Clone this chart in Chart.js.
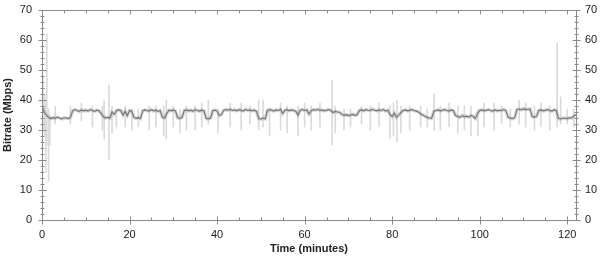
<!DOCTYPE html>
<html>
<head>
<meta charset="utf-8">
<script src="https://cdn.jsdelivr.net/npm/chart.js@4/dist/chart.umd.min.js"></script>
<style>
  html, body { margin: 0; padding: 0; background: #fff; }
  #wrap { width: 600px; height: 259px; }
</style>
</head>
<body>
<div id="wrap"><canvas id="bitrateChart"></canvas></div>
<script>
// sample spacing of the trace (minutes)
const sampleStepMin = 0.5;

// main bitrate trace, one value per half minute from 0 to 122 min
const bitrateMbps = [
  38.0, 36.0, 35.0, 34.2, 33.8, 34.1, 33.9, 34.3, 34.0, 33.7,
  34.1, 34.0, 33.8, 34.2, 36.4, 36.8, 36.5, 36.2, 36.7, 36.4,
  36.6, 36.3, 36.8, 36.5, 36.2, 36.6, 36.4, 35.5, 34.5, 34.0,
  34.2, 33.9, 36.0, 35.2, 36.4, 36.7, 36.5, 35.0, 36.2, 34.8,
  36.5, 36.3, 34.2, 33.9, 34.1, 33.8, 36.4, 36.7, 36.5, 36.3,
  36.8, 36.4, 36.6, 36.2, 36.5, 34.2, 34.0, 35.5, 36.6, 36.4,
  36.7, 36.3, 34.1, 33.9, 34.2, 36.5, 36.7, 36.4, 36.6, 36.2,
  36.8, 36.5, 36.3, 36.6, 36.4, 33.9, 33.7, 34.0, 36.4, 36.6,
  36.3, 34.8, 35.2, 36.5, 36.8, 36.6, 36.9, 36.5, 36.7, 36.4,
  36.8, 36.6, 36.3, 36.9, 36.5, 36.7, 36.4, 36.6, 36.2, 33.8,
  33.6, 34.0, 33.7, 36.5, 36.8, 36.6, 36.3, 36.7, 36.5, 36.9,
  35.5, 36.6, 36.8, 36.4, 36.7, 36.5, 36.2, 35.0, 36.6, 36.8,
  36.5, 36.7, 35.3, 36.4, 36.8, 36.6, 36.9, 36.5, 36.7, 36.4,
  36.6, 36.8, 36.5, 35.8, 36.2, 36.0, 35.9, 35.2, 34.9, 35.1,
  34.8, 35.0, 35.2, 34.9, 35.1, 36.5, 36.7, 36.4, 36.8, 36.6,
  36.5, 36.9, 36.6, 36.4, 36.7, 36.5, 36.8, 36.3, 36.6, 35.2,
  34.5, 35.6, 34.2, 35.0, 35.8, 36.5, 36.7, 36.4, 36.6, 36.8,
  36.5, 36.3, 36.0, 35.4, 35.0, 34.6, 34.2, 34.0, 33.9, 36.2,
  36.5, 36.7, 36.4, 36.6, 36.8, 36.5, 36.3, 36.7, 36.4, 34.8,
  34.5, 34.2, 34.8, 34.4, 34.6, 34.3, 34.9, 34.5, 33.8, 35.5,
  36.5, 36.7, 36.4, 36.6, 36.8, 36.5, 36.3, 36.7, 36.4, 36.6,
  36.5, 36.8, 36.4, 34.2, 34.0, 33.8, 34.1, 36.8, 37.0, 36.7,
  37.1, 36.8, 36.9, 37.0, 34.5, 34.3, 34.6, 36.5, 36.7, 36.4,
  36.6, 36.8, 36.5, 36.3, 36.7, 36.5, 33.8, 33.7, 34.0, 33.9,
  33.8, 34.1, 34.0, 34.6, 35.2
];

// short excursions (min / max within a sample)
const spikeTimes = [0.2, 0.6, 0.9, 1.1, 1.5, 1.8, 3, 6.5, 9, 11.5, 13.8, 14.2, 15.3, 16, 17, 19, 20.5, 22, 24.5, 26,
  27.8, 28.4, 30, 31.5, 33, 35, 36.5, 38, 40.2, 43, 45.5, 47.5, 49.5, 50.5, 52, 54.5, 56, 58.5, 60, 61.5,
  63.5, 66.3, 67, 69, 70.5, 73, 75, 77, 79.5, 80.3, 81.1, 82, 84, 86.5, 88, 89.6, 91, 93, 95, 96.5,
  98, 99.6, 101, 103.3, 105, 107, 109, 110.5, 112.5, 114, 116, 117.7, 118.5, 120, 121.5];
const spikeLow = [30, 28, 16, 25, 13, 25, 32, 32, 33, 31, 30, 27, 20, 29, 31, 31, 30, 31, 30, 31,
  28, 27, 31, 29, 30, 30, 31, 32, 29, 31, 30, 32, 30, 31, 28, 30, 29, 28, 31, 30,
  31, 25, 29, 30, 31, 32, 30, 31, 27, 28, 26, 29, 30, 31, 31, 30, 30, 31, 29, 30,
  28, 28, 31, 30, 32, 31, 32, 31, 30, 31, 30, 31, 32, 32, 31];
const spikeHigh = [48, 42, 40, 62, 37, 35, 38, 38, 39, 38, 38, 40, 45, 38, 37, 38, 37, 37, 38, 38,
  38, 40, 38, 37, 38, 38, 39, 40, 37, 39, 39, 38, 40, 40, 37, 39, 38, 38, 39, 38,
  39, 46.5, 38, 37, 37, 38, 38, 39, 38, 39, 40, 38, 38, 38, 37, 42, 38, 39, 38, 38,
  38, 37, 39, 39, 38, 37, 40, 39, 38, 39, 38, 59, 41, 37, 37];

const xTickValues = [0, 20, 40, 60, 80, 100, 120];
const yTickValues = [0, 10, 20, 30, 40, 50, 60, 70];

const tracePoints = bitrateMbps.map((v, i) => ({ x: i * sampleStepMin, y: v }));
const spikeBars = spikeTimes.map((t, i) => ({ x: t, y: [spikeLow[i], spikeHigh[i]] }));

const axisColor = '#8a8a8a';

// frame + major/minor tick marks on all four sides
const axisFrame = {
    id: 'axisFrame',
    afterDatasetsDraw(chart) {
        const { ctx, chartArea: a, scales } = chart;
        const x = scales.x, y = scales.y;
        const L = Math.round(a.left) + 0.5, R = Math.round(a.right) + 0.5;
        const T = Math.round(a.top) + 0.5, B = Math.round(a.bottom) + 0.5;
        ctx.save();
        ctx.strokeStyle = axisColor;
        ctx.lineWidth = 1;
        ctx.beginPath();
        ctx.rect(L, T, R - L, B - T);
        // x ticks
        for (let t = 0; t <= 120; t += 5) {
            const px = Math.round(x.getPixelForValue(t)) + 0.5;
            const major = t % 20 === 0;
            ctx.moveTo(px, B + (major ? 4 : 0));
            ctx.lineTo(px, B - (major ? 4 : 3));
            ctx.moveTo(px, T);
            ctx.lineTo(px, T + (major ? 4 : 3));
        }
        // y ticks (left and right)
        for (let v = 0; v <= 70; v += 2) {
            const py = Math.round(y.getPixelForValue(v)) + 0.5;
            const len = v % 10 === 0 ? 4 : 2;
            ctx.moveTo(L - len, py);
            ctx.lineTo(L + len, py);
            ctx.moveTo(R - len, py);
            ctx.lineTo(R + len, py);
        }
        ctx.stroke();
        ctx.restore();
    }
};

const labelFont = { family: '"Liberation Sans", Arial, sans-serif', size: 11 };
const titleFont = { family: '"Liberation Sans", Arial, sans-serif', size: 11, weight: 'bold' };

function fixVertical(width) {
    return s => { s.width = width; s.paddingTop = 0; s.paddingBottom = 0; };
}

const ctx = document.getElementById('bitrateChart').getContext('2d');
new Chart(ctx, {
    type: 'line',
    data: {
        datasets: [{
            type: 'bar',
            data: spikeBars,
            backgroundColor: '#dadada',
            borderWidth: 0,
            barThickness: 1,
            order: 3
        }, {
            data: tracePoints,
            borderColor: 'rgba(175, 175, 175, 0.5)',
            borderWidth: 3.5,
            pointRadius: 0,
            tension: 0,
            order: 2
        }, {
            data: tracePoints,
            borderColor: '#737373',
            borderWidth: 1.1,
            pointRadius: 0,
            tension: 0,
            order: 1
        }]
    },
    options: {
        responsive: true,
        maintainAspectRatio: false,
        animation: false,
        layout: { padding: { top: 10, left: 0, right: 0, bottom: 0 } },
        plugins: {
            legend: { display: false },
            tooltip: { enabled: false }
        },
        scales: {
            x: {
                type: 'linear',
                min: 0,
                max: 122,
                offset: false,
                grid: { display: false, drawTicks: false },
                border: { display: false },
                afterBuildTicks: s => { s.ticks = xTickValues.map(v => ({ value: v })); },
                afterFit: s => { s.height = 39; s.paddingLeft = 0; s.paddingRight = 0; },
                ticks: { color: '#222', font: labelFont, padding: 8, maxRotation: 0 },
                title: { display: true, text: 'Time (minutes)', color: '#222', font: titleFont, padding: { top: 0, bottom: 3 } }
            },
            y: {
                min: 0,
                max: 70,
                position: 'left',
                grid: { display: false, drawTicks: false },
                border: { display: false },
                afterBuildTicks: s => { s.ticks = yTickValues.map(v => ({ value: v })); },
                afterFit: fixVertical(42),
                ticks: { color: '#222', font: labelFont, padding: 10 },
                title: { display: true, text: 'Bitrate (Mbps)', color: '#222', font: titleFont, padding: { top: 1, bottom: 0 } }
            },
            y2: {
                min: 0,
                max: 70,
                position: 'right',
                grid: { display: false, drawTicks: false },
                border: { display: false },
                afterBuildTicks: s => { s.ticks = yTickValues.map(v => ({ value: v })); },
                afterFit: fixVertical(24),
                ticks: { color: '#222', font: labelFont, padding: 9 }
            }
        }
    },
    plugins: [axisFrame]
});
</script>
</body>
</html>
